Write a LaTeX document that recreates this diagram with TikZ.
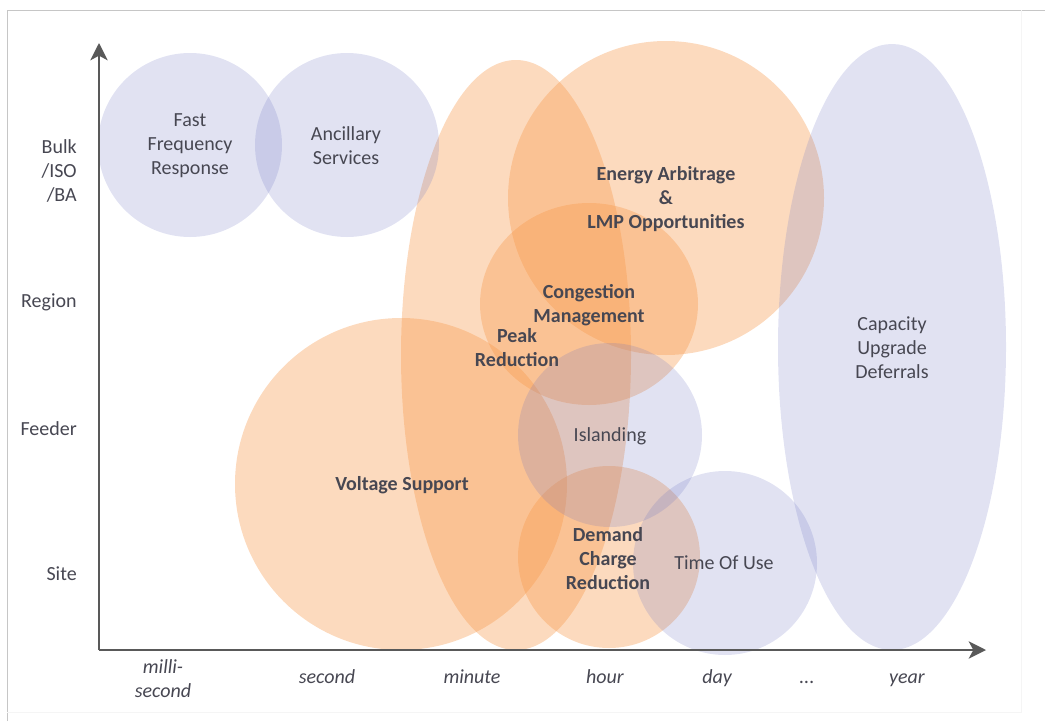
\documentclass[tikz,border=0pt]{standalone}
\usepackage{fontspec}
\setmainfont{Carlito}
\usetikzlibrary{arrows.meta}
\definecolor{lav}{HTML}{6970C0}
\definecolor{org}{HTML}{F79646}
\definecolor{txt}{HTML}{474752}
\definecolor{axisc}{HTML}{595959}
\begin{document}
\begin{tikzpicture}[x=0.75pt,y=-0.75pt,
  lavfill/.style={fill=lav, fill opacity=0.2},
  orgfill/.style={fill=org, fill opacity=0.35},
  lbl/.style={text=txt, align=center, font=\fontsize{15}{18}\selectfont, inner sep=0pt},
  blbl/.style={lbl, font=\fontsize{15}{18}\selectfont\bfseries},
  ylbl/.style={lbl, anchor=east, align=right},
  xlbl/.style={lbl, anchor=base, font=\fontsize{15}{18}\selectfont\itshape},
  axisline/.style={draw=axisc, line width=1.5pt, -{Stealth[length=13pt,width=13pt,inset=3.5pt]}}
]
\useasboundingbox (0,0) rectangle (1045,721);
% frame
\draw[gray!45, line width=0.75pt] (7,721) -- (7,10) -- (1045,10);
\draw[gray!8, line width=0.75pt] (1021,10) -- (1021,712) -- (7,712);

% orange shapes
\path[orgfill] (516,355) ellipse [x radius=115, y radius=295];
\path[orgfill] (666,198) ellipse [x radius=158, y radius=157];
\path[orgfill] (589,304) ellipse [x radius=109, y radius=101];
\path[orgfill] (401,484) ellipse [x radius=166, y radius=166];
\path[orgfill] (609,557) ellipse [x radius=91, y radius=91];

% lavender shapes
\path[lavfill] (190,145) ellipse [x radius=92, y radius=92];
\path[lavfill] (347,145) ellipse [x radius=92, y radius=92];
\path[lavfill] (610,435) ellipse [x radius=92, y radius=92];
\path[lavfill] (725,563) ellipse [x radius=92, y radius=92];
\path[lavfill] (892,347) ellipse [x radius=114, y radius=303];

% axes
\coordinate (origin) at (99,650);
\coordinate (ytip) at (99,43);
\coordinate (xtip) at (986,650);
\draw[axisline] (origin) -- (ytip);
\draw[axisline] (origin) -- (xtip);

% labels in shapes
\node[lbl]  (ffr)  at (190,146) {Fast\\Frequency\\Response};
\node[lbl]  (anc)  at (346,146) {Ancillary\\Services};
\node[blbl] (ea)   at (666,199) {Energy Arbitrage\\\&\\LMP Opportunities};
\node[blbl] (cm)   at (589,305) {Congestion\\Management};
\node[blbl] (pr)   at (517,348) {Peak\\Reduction};
\node[lbl]  (isl)  at (610,436) {Islanding};
\node[blbl] (vs)   at (402,485) {Voltage Support};
\node[blbl] (dcr)  at (608,559) {Demand\\Charge\\Reduction};
\node[lbl]  (tou)  at (724,563) {Time Of Use};
\node[lbl]  (cud)  at (892,348) {Capacity\\Upgrade\\Deferrals};

% y axis labels
\node[ylbl] (ybulk)   at (77,171) {Bulk\\/ISO\\\ /BA};
\node[ylbl] (yregion) at (77,302) {Region};
\node[ylbl] (yfeeder) at (77,429) {Feeder};
\node[ylbl] (ysite)   at (77,574) {Site};

% x axis labels
\node[xlbl] (xms)   at (163,697) {milli-\\second};
\node[xlbl] (xsec)  at (327,683) {second};
\node[xlbl] (xmin)  at (472,683) {minute};
\node[xlbl] (xhour) at (605,683) {hour};
\node[xlbl] (xday)  at (717,683) {day};
\node[xlbl] (xdots) at (807,683) {...};
\node[xlbl] (xyear) at (907,683) {year};
\end{tikzpicture}
\end{document}
